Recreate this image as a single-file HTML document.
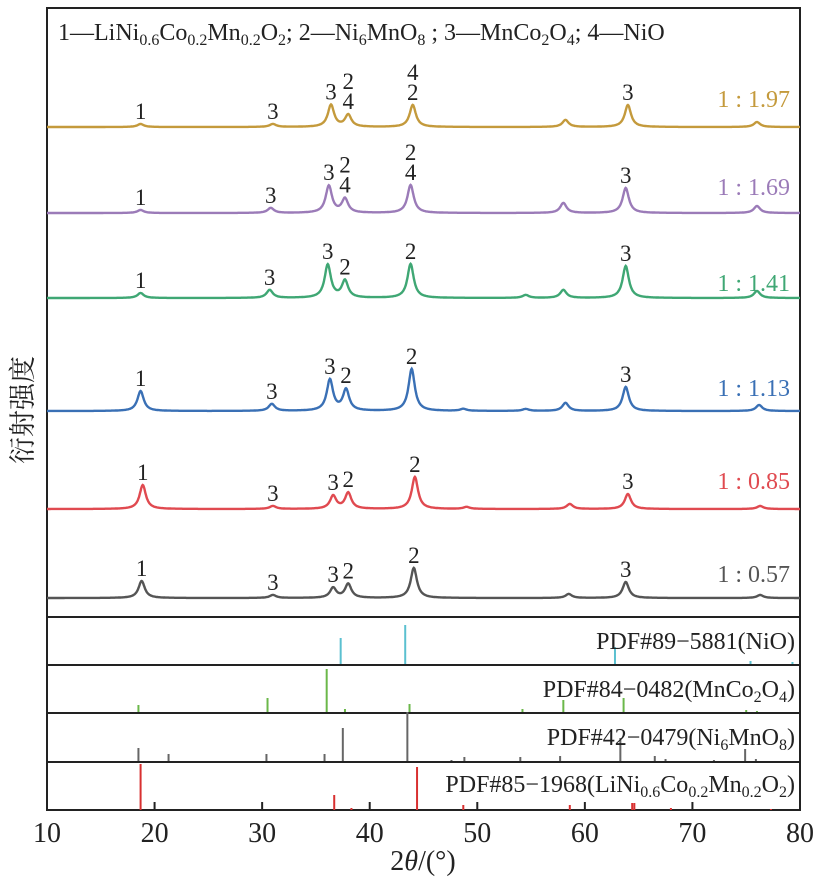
<!DOCTYPE html>
<html><head><meta charset="utf-8"><style>
html,body{margin:0;padding:0;background:#fff;}
svg{display:block;font-family:"Liberation Serif","Noto Serif CJK SC",serif;}
</style></head><body>
<svg id="c" width="819" height="894" viewBox="0 0 819 894">
<rect x="47" y="8" width="753" height="802" fill="none" stroke="#222" stroke-width="2"/>
<text x="58" y="40" font-size="24" fill="#222">1—LiNi<tspan font-size="16" dy="5">0.6</tspan><tspan dy="-5">Co</tspan><tspan font-size="16" dy="5">0.2</tspan><tspan dy="-5">Mn</tspan><tspan font-size="16" dy="5">0.2</tspan><tspan dy="-5">O</tspan><tspan font-size="16" dy="5">2</tspan><tspan dy="-5">; 2—Ni</tspan><tspan font-size="16" dy="5">6</tspan><tspan dy="-5">MnO</tspan><tspan font-size="16" dy="5">8</tspan><tspan dy="-5"> ; 3—MnCo</tspan><tspan font-size="16" dy="5">2</tspan><tspan dy="-5">O</tspan><tspan font-size="16" dy="5">4</tspan><tspan dy="-5">; 4—NiO</tspan></text>
<text transform="translate(32,410) rotate(-90)" text-anchor="middle" font-size="27" fill="#222">衍射强度</text>
<text x="423" y="870" text-anchor="middle" font-size="28" fill="#222">2<tspan font-style="italic">θ</tspan>/(°)</text>
<g id="g"></g>
<g font-size="24" fill="#222" text-anchor="end">
<text x="795" y="649">PDF#89−5881(NiO)</text>
<text x="795" y="697">PDF#84−0482(MnCo<tspan font-size="16" dy="5">2</tspan><tspan dy="-5">O</tspan><tspan font-size="16" dy="5">4</tspan><tspan dy="-5">)</tspan></text>
<text x="795" y="745">PDF#42−0479(Ni<tspan font-size="16" dy="5">6</tspan><tspan dy="-5">MnO</tspan><tspan font-size="16" dy="5">8</tspan><tspan dy="-5">)</tspan></text>
<text x="795" y="792">PDF#85−1968(LiNi<tspan font-size="16" dy="5">0.6</tspan><tspan dy="-5">Co</tspan><tspan font-size="16" dy="5">0.2</tspan><tspan dy="-5">Mn</tspan><tspan font-size="16" dy="5">0.2</tspan><tspan dy="-5">O</tspan><tspan font-size="16" dy="5">2</tspan><tspan dy="-5">)</tspan></text>
</g>
</svg>
<script>
const xTicks=[10,20,30,40,50,60,70,80];
const seriesNames=["1 : 1.97","1 : 1.69","1 : 1.41","1 : 1.13","1 : 0.85","1 : 0.57"];
const seriesColors=["#c49a3c","#9b7bb8","#3fa774","#3a70b5","#e04a50","#555555"];
const baselines=[127,213,298,411,509,598];
const labelY=[107,195,291,396,489,582];
const peaksPos=[
[18.7,31,36.4,38,44,58.2,64,76],
[18.7,30.8,36.2,37.7,43.8,58,63.8,76],
[18.7,30.7,36.1,37.7,43.8,54.5,58,63.8,76],
[18.7,30.9,36.3,37.8,43.9,48.7,54.5,58.2,63.8,76.2],
[18.9,31,36.6,38,44.2,49,58.6,64,76.3],
[18.8,31,36.6,38,44.1,58.5,63.8,76.3]];
const peaksH=[
[3,3,22,12,22,7,22,5],
[3,5,27,14,28,10,25,7],
[5,8,33,17,34,3,8,32,7],
[20,7,31,21,42,2,2,8,24,6],
[24,3,13,16,32,2,5,15,3],
[17,3,10,14,30,4,16,3]];
const peakLabels=[
[[18.7,"1"],[31,"3"],[36.4,"3"],[38,"2|4"],[44,"4|2"],[64,"3"]],
[[18.7,"1"],[30.8,"3"],[36.2,"3"],[37.7,"2|4"],[43.8,"2|4"],[63.8,"3"]],
[[18.7,"1"],[30.7,"3"],[36.1,"3"],[37.7,"2"],[43.8,"2"],[63.8,"3"]],
[[18.7,"1"],[30.9,"3"],[36.3,"3"],[37.8,"2"],[43.9,"2"],[63.8,"3"]],
[[18.9,"1"],[31,"3"],[36.6,"3"],[38,"2"],[44.2,"2"],[64,"3"]],
[[18.8,"1"],[31,"3"],[36.6,"3"],[38,"2"],[44.1,"2"],[63.8,"3"]]];
const refColors=["#5bc0d0","#6bb84a","#666","#d83030"];
const refPos=[
[37.3,43.3,62.8,75.4,79.3],
[18.5,30.5,36,37.7,43.7,54.2,58,63.6,75,76],
[18.5,21.3,30.4,35.8,37.5,43.5,47.6,48.8,54,57.7,63.3,66.5,67.5,72,74.9,75.9],
[18.7,36.7,38.3,44.4,48.7,58.6,64.4,64.6,68,77.3]];
const refH=[
[27,40,18,4,3],
[8,15,44,4,9,4,13,15,3,2],
[14,8,8,8,34,50,2,5,5,6,24,6,3,2,13,3],
[46,15,2,43,5,5,7,7,2,1]];
const panelTop=[617,665,713,762];const panelBot=[665,713,762,810];

const NS="http://www.w3.org/2000/svg";
const g=document.getElementById('g');
const X=v=>47+(v-10)*(753/70);
function mk(t,a){const e=document.createElementNS(NS,t);for(const k in a)e.setAttribute(k,a[k]);g.appendChild(e);return e;}

seriesNames.forEach((nm,i)=>{
  let d="";
  for(let t=10;t<=80.001;t+=0.05){
    let y=0;peaksPos[i].forEach((p,j)=>{const w=0.35;y+=peaksH[i][j]/(1+((t-p)/w)**2);});
    d+=(d?"L":"M")+X(t).toFixed(1)+" "+(baselines[i]-y).toFixed(1);
  }
  const p=mk('path',{d:d,fill:"none",stroke:seriesColors[i],"stroke-width":2.4});
  
  
  const tx=mk('text',{x:790,y:labelY[i],"text-anchor":"end","font-size":24,fill:seriesColors[i]});
  tx.textContent=nm;
  
  
  peakLabels[i].forEach(([pos,txt])=>{
    let h=0;peaksPos[i].forEach((p,j)=>{h+=peaksH[i][j]/(1+((pos-p)/0.35)**2);});
    const parts=txt.split("|");
    parts.forEach((s,k)=>{
      const t=mk('text',{x:X(pos),y:baselines[i]-h-5-(parts.length-1-k)*20,"text-anchor":"middle","font-size":23,fill:"#222"});
      t.textContent=s;
      
      
    });
  });
});

panelTop.forEach((pt,i)=>{
  const ln=mk('line',{x1:47,x2:800,y1:pt,y2:pt,stroke:"#222","stroke-width":2});
  
  
  refPos[i].forEach((p,j)=>{
    const s=mk('line',{x1:X(p),x2:X(p),y1:panelBot[i],y2:panelBot[i]-refH[i][j],stroke:refColors[i],"stroke-width":2});
    
    
  });
});

xTicks.forEach(v=>{
  const tk=mk('line',{x1:X(v),x2:X(v),y1:810,y2:802,stroke:"#222","stroke-width":2});
  
  
  const t=mk('text',{x:X(v),y:842,"text-anchor":"middle","font-size":28,fill:"#222"});
  t.textContent=v;
  
  
});
</script>
</body></html>
